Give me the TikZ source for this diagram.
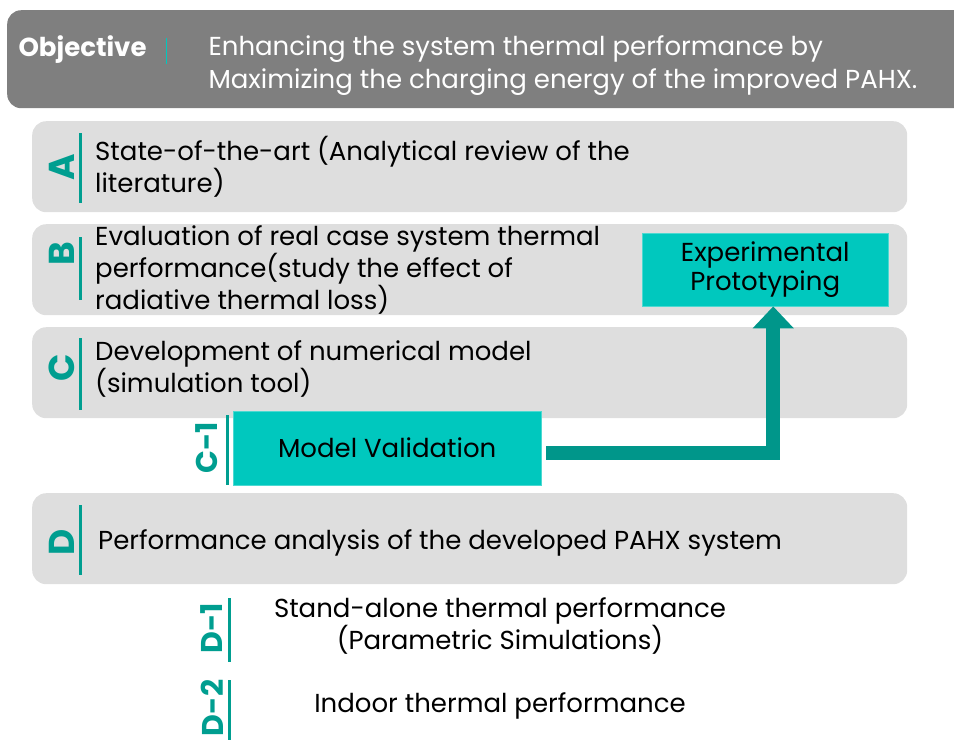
\documentclass[tikz,border=0pt]{standalone}
\usepackage{fontspec}
\setmainfont{Poppins}
\usetikzlibrary{arrows.meta, positioning, calc}
\definecolor{objgray}{HTML}{7F7F7F}
\definecolor{phasegray}{HTML}{DEDEDE}
\definecolor{boxteal}{HTML}{00C8BE}
\definecolor{arrowteal}{HTML}{00968A}
\definecolor{tagteal}{HTML}{009E90}
\newcommand{\txt}{\fontsize{26}{29}\selectfont}

\begin{document}
\begin{tikzpicture}[x=1pt, y=-1pt,
	phase/.style = {fill=phasegray, rounded corners=14pt, minimum width=875pt,
		minimum height=91pt, anchor=north west, inner sep=0pt},
	phasetext/.style = {anchor=west, align=left, font=\txt, inner sep=0pt},
	tag/.style = {rotate=90, text=tagteal, inner sep=0pt,
		font=\bfseries\fontsize{36}{36}\selectfont},
	subtag/.style = {rotate=90, text=tagteal, inner sep=0pt,
		font=\bfseries\fontsize{30}{30}\selectfont},
	tagbar/.style = {draw=tagteal, line width=3pt},
	tealbox/.style = {fill=boxteal, draw=boxteal!70!white, align=center, font=\txt},
	flow/.style = {draw=arrowteal, line width=14pt, -{Triangle[width=40pt, length=22pt]}}]
	\useasboundingbox (0,0) rectangle (954,740);
	% objective bar
	\node[fill=objgray, rounded corners=14pt, minimum width=990pt, minimum height=98pt,
		anchor=north west] (obj) at (7,10) {};
	\node[anchor=west, text=white, font=\bfseries\fontsize{26}{26}\selectfont] (objlab) at (15,50) {Objective};
	\draw[draw=boxteal, line width=1pt] (166,38) -- (166,64);
	\node[anchor=west, align=left, text=white, font=\fontsize{26}{33}\selectfont] (objtext) at (205,66)
		{Enhancing the system thermal performance by\\Maximizing the charging energy of the improved PAHX.};
	% phases
	\node[phase] (A) at (32,121) {};
	\node[phase] (B) at (32,224) {};
	\node[phase] (C) at (32,327) {};
	\node[phase] (D) at (32,493) {};
	\node[tag] (Atag) at (62,167) {A};
	\node[tag] (Btag) at (62,254) {B};
	\node[tag] (Ctag) at (62,368) {C};
	\node[tag] (Dtag) at (62,542) {D};
	\draw[tagbar] (80,133) -- (80,203);
	\draw[tagbar] (80,237) -- (80,300);
	\draw[tagbar] (80,338) -- (80,410);
	\draw[tagbar] (80,505) -- (80,575);
	\node[phasetext] (Atext) at (95,167) {State-of-the-art (Analytical review of the\\literature)};
	\node[phasetext] (Btext) at (95,270) {Evaluation of real case system thermal\\performance(study the effect of\\radiative thermal loss)};
	\node[phasetext] (Ctext) at (95,369) {Development of numerical model\\(simulation tool)};
	\node[phasetext] (Dtext) at (98,543) {Performance analysis of the developed PAHX system};
	% validation and prototyping
	\node[tealbox, minimum width=246pt, minimum height=73pt, anchor=north west] (EP) at (642,233)
		{Experimental\\Prototyping};
	\node[tealbox, minimum width=308pt, minimum height=74pt, anchor=north west] (MV) at (233,411)
		{Model Validation};
	\node[subtag] (C1tag) at (207,448) {C-1};
	\draw[tagbar] (227,415) -- (227,485);
	\draw[flow] ([xshift=5pt, yshift=-5pt]MV.east) -| ([xshift=8pt]EP.south);
	% sub-phases of D
	\node[subtag] (D1tag) at (212,628) {D-1};
	\draw[tagbar] (229,598) -- (229,662);
	\node[subtag] (D2tag) at (212,708) {D-2};
	\draw[tagbar] (229,680) -- (229,740);
	\node[align=center, font=\txt, inner sep=0pt] (D1text) at (500,626)
		{Stand-alone thermal performance\\(Parametric Simulations)};
	\node[align=center, font=\txt, inner sep=0pt] (D2text) at (500,706) {Indoor thermal performance};
\end{tikzpicture}
\end{document}
